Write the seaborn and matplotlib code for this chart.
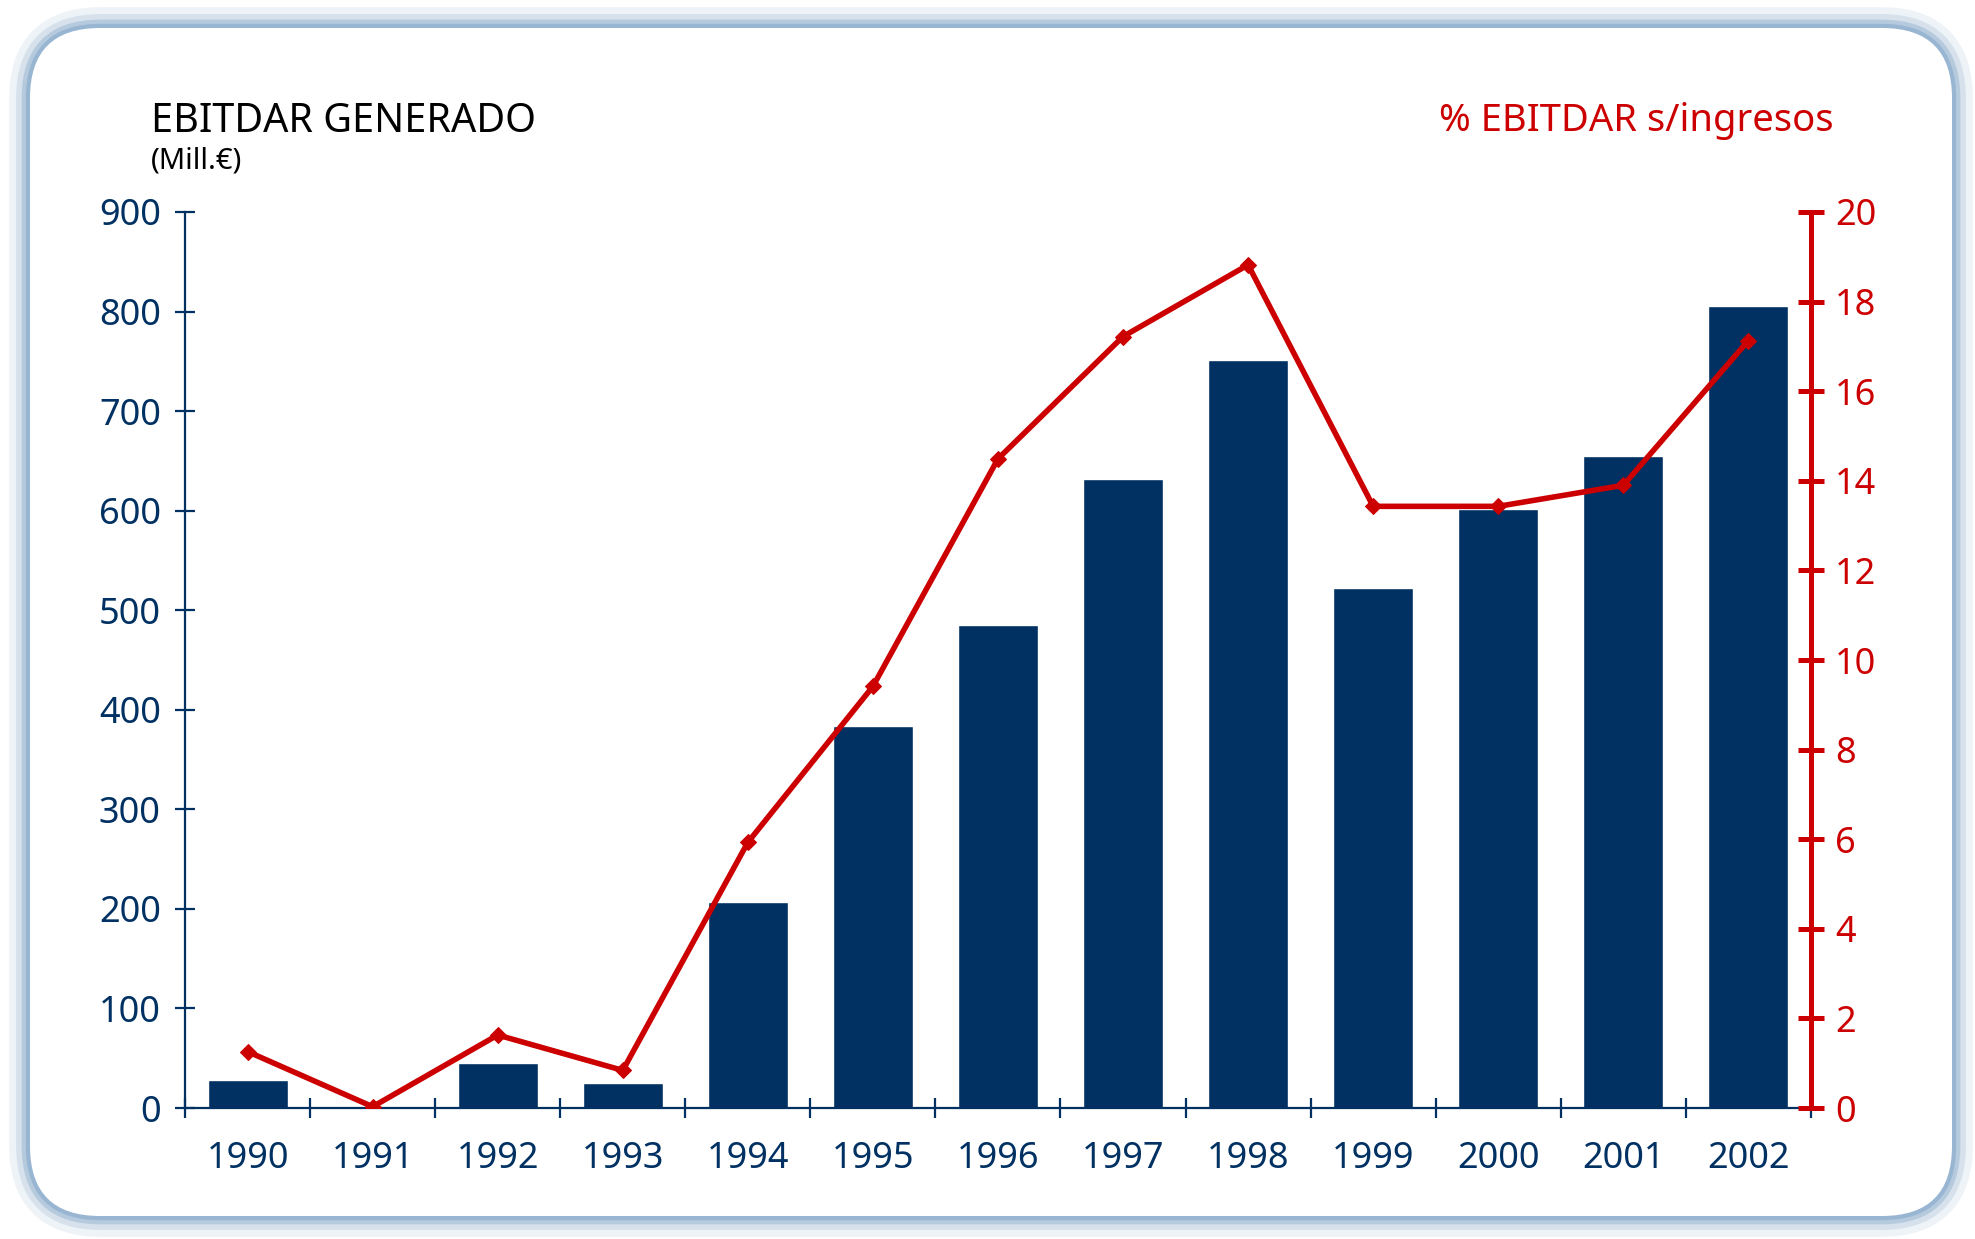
#!/usr/bin/env python3
"""
EBITDAR generado (Mill. EUR) con % EBITDAR sobre ingresos, 1990-2002.
Outputs: out.png
"""
import numpy as np
import pandas as pd
import matplotlib.pyplot as plt
from matplotlib.patches import FancyBboxPatch
from matplotlib.ticker import FixedLocator
import seaborn as sns

sns.set_theme(style="white")
plt.rcParams["font.family"] = ["Noto Sans", "DejaVu Sans"]

NAVY = "#003162"
RED = "#cc0000"

years = ["1990", "1991", "1992", "1993", "1994", "1995", "1996",
         "1997", "1998", "1999", "2000", "2001", "2002"]
ebitdar = [28, 0, 45, 25, 207, 384, 485, 632, 751, 522, 602, 655, 806]
pct_ingresos = [1.26, 0.03, 1.63, 0.84, 5.93, 9.41, 14.49,
                17.22, 18.82, 13.43, 13.43, 13.90, 17.13]
left_ticks = list(range(0, 901, 100))
right_ticks = list(range(0, 21, 2))

df = pd.DataFrame({"year": years, "ebitdar": ebitdar, "pct": pct_ingresos})


def draw_background(fig):
    bg = fig.add_axes([0, 0, 1, 1], zorder=-10)
    bg.set_xlim(0, 1975)
    bg.set_ylim(1239, 0)
    bg.axis("off")
    # soft bluish frame
    for lw, alpha in [(30, 0.15), (20, 0.25), (12, 0.45), (6, 0.75)]:
        bg.add_patch(FancyBboxPatch((30, 28), 1922, 1188,
                                    boxstyle="round,pad=0,rounding_size=70",
                                    fc="none", ec="#8fafcf", lw=lw, alpha=alpha))
    box = FancyBboxPatch((30, 28), 1922, 1188,
                         boxstyle="round,pad=0,rounding_size=70",
                         fc="white", ec="none")
    bg.add_patch(box)
    grad = np.linspace(0, 1, 256).reshape(-1, 1) ** 1.2
    top = np.array([1.0, 1.0, 1.0])
    bot = np.array([0.925, 0.955, 0.99])
    img = top + (bot - top) * grad[..., None]
    im = bg.imshow(img, extent=(30, 1952, 1216, 28), aspect="auto")
    im.set_clip_path(box)


fig = plt.figure(figsize=(19.75, 12.39), dpi=100)
fig.patch.set_facecolor("white")
draw_background(fig)

ax = fig.add_axes([0.0937, 0.1057, 0.8232, 0.7232])
ax.patch.set_alpha(0)
sns.barplot(data=df, x="year", y="ebitdar", color=NAVY, saturation=1,
            width=0.64, ax=ax, zorder=2)

ax2 = ax.twinx()
sns.lineplot(x=np.arange(len(years)), y=df["pct"], ax=ax2, color=RED,
             lw=4, marker="D", markersize=8, markeredgecolor=RED,
             zorder=3)

ax.set_xlim(-0.5, len(years) - 0.5)
ax.set_ylim(0, 900)
ax2.set_ylim(0, 20)
ax.set_xlabel("")
ax.set_ylabel("")
ax2.set_xlabel("")
ax2.set_ylabel("")

# spines
for s in ["top", "right"]:
    ax.spines[s].set_visible(False)
for s in ["top", "left", "bottom"]:
    ax2.spines[s].set_visible(False)
ax.spines["left"].set_color(NAVY)
ax.spines["left"].set_linewidth(1.6)
ax.spines["bottom"].set_color(NAVY)
ax.spines["bottom"].set_linewidth(1.6)
ax2.spines["right"].set_color(RED)
ax2.spines["right"].set_linewidth(3.6)
ax2.spines["right"].set_capstyle("round")

# left axis ticks
ax.set_yticks(left_ticks)
ax.tick_params(axis="y", which="major", direction="inout", length=15,
               width=1.6, color=NAVY, labelcolor=NAVY, labelsize=26, pad=10)

# x axis: labels at centres, ticks at category borders
ax.set_xticks(range(len(years)))
ax.set_xticklabels(years)
ax.xaxis.set_minor_locator(FixedLocator(np.arange(-0.5, len(years), 1)))
ax.tick_params(axis="x", which="major", length=0, labelcolor=NAVY,
               labelsize=26, pad=24)
ax.tick_params(axis="x", which="minor", direction="inout", length=15,
               width=1.6, color=NAVY, bottom=True)

# right axis ticks
ax2.set_yticks(right_ticks)
ax2.tick_params(axis="y", which="major", direction="inout", length=19,
                width=3.6, color=RED, labelcolor=RED, labelsize=26, pad=8,
                left=False, right=True)
for t in ax2.yaxis.get_major_ticks():
    t.tick2line.set_solid_capstyle("round")

fig.text(0.0765, 0.8935, "EBITDAR GENERADO", fontsize=28.5, color="black",
         ha="left", va="baseline")
fig.text(0.0765, 0.8636, "(Mill.€)", fontsize=21, color="black",
         fontweight="bold", ha="left", va="baseline")
fig.text(0.9286, 0.894, "% EBITDAR s/ingresos", fontsize=27.5, color=RED,
         ha="right", va="baseline")

fig.savefig("out.png", dpi=100)
plt.close(fig)
